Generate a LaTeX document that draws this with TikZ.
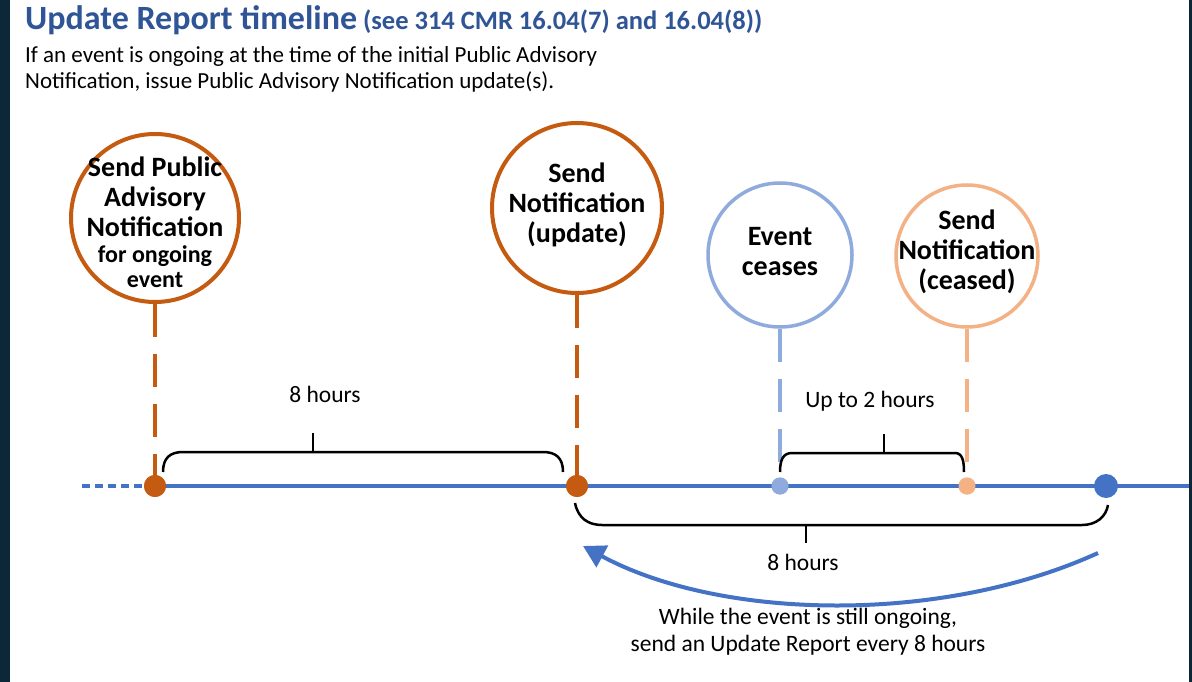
\documentclass[tikz,border=0pt]{standalone}
\usepackage{fontspec}
\setmainfont{Carlito}
\usetikzlibrary{arrows.meta}

\definecolor{burnt}{HTML}{C55A11}
\definecolor{skyline}{HTML}{8FAADC}
\definecolor{peach}{HTML}{F4B183}
\definecolor{axisblue}{HTML}{4472C4}
\definecolor{titleblue}{HTML}{2F5597}
\definecolor{framedark}{HTML}{0B2738}

\begin{document}
\begin{tikzpicture}[x=1pt,y=-1pt,
  milestone/.style={circle, draw=#1, fill=white, inner sep=0pt},
  tdot/.style={circle, fill=#1, inner sep=0pt},
  ctext/.style={font=\fontsize{28}{30}\bfseries\selectfont, align=center, inner sep=0pt},
  lbl/.style={font=\fontsize{23.5}{27}\selectfont, align=center, inner sep=0pt},
  stem/.style={line width=3.5pt, dash pattern=on 33pt off 17pt},
  brace/.style={line width=2.5pt, draw=black}
]
% page frame
\useasboundingbox (0,0) rectangle (1192,682);
\fill[framedark] (0,0) rectangle (1192,682);
\fill[white] (10,0) rectangle (1189,682);

% heading
\node[anchor=base west, inner sep=0pt, text=titleblue] (title) at (25,30)
  {{\fontsize{34}{36}\selectfont\bfseries Update Report timeline}\hspace{6pt}{\fontsize{26.5}{28}\selectfont\bfseries (see 314 CMR 16.04(7) and 16.04(8))}};
\node[anchor=base west, inner sep=0pt, font=\fontsize{23}{26}\selectfont] (intro1) at (25,63)
  {If an event is ongoing at the time of the initial Public Advisory};
\node[anchor=base west, inner sep=0pt, font=\fontsize{23}{26}\selectfont] (intro2) at (25,89)
  {Notification, issue Public Advisory Notification update(s).};

% time axis
\coordinate (tstart) at (82,486);
\coordinate (tend) at (1189,486);
\node[tdot=burnt, minimum size=22pt] (da) at (155,486) {};
\node[tdot=burnt, minimum size=22pt] (db) at (577,486) {};
\node[tdot=skyline, minimum size=17pt] (dc) at (780,486) {};
\node[tdot=peach, minimum size=17pt] (dd) at (967,486) {};
\node[tdot=axisblue, minimum size=24pt] (de) at (1106,486) {};

\draw[axisblue, line width=3.5pt, dash pattern=on 8pt off 5pt] (tstart) -- (da.center);
\draw[axisblue, line width=4pt] (da.center) -- (tend);

% milestone circles
\node[milestone=burnt, line width=4pt, minimum size=168pt] (ca) at (155,218) {};
\node[milestone=burnt, line width=4pt, minimum size=170pt] (cb) at (577,208) {};
\node[milestone=skyline, line width=3.5pt, minimum size=144pt] (cc) at (780,255) {};
\node[milestone=peach, line width=3.5pt, minimum size=142pt] (cd) at (967,256) {};

\node[ctext] (ta) at (155,222) {Send Public\\Advisory\\Notification\\[-4pt]{\fontsize{24}{25}\selectfont for ongoing}\\[-5pt]{\fontsize{24}{25}\selectfont event}};
\node[ctext] (tb) at (577,205) {Send\\Notification\\(update)};
\node[ctext] (tc) at (780,252) {Event\\ceases};
\node[ctext] (td) at (967,252) {Send\\Notification\\(ceased)};

% dashed stems from circles to the axis
\draw[stem, burnt] (ca.south) -- (da.center);
\draw[stem, burnt] (cb.south) -- (db.center);
\draw[stem, skyline] (cc.south) -- (dc.center);
\draw[stem, peach] (cd.south) -- (dd.center);

% redraw dots on top of the stems
\node[tdot=burnt, minimum size=22pt] at (da) {};
\node[tdot=burnt, minimum size=22pt] at (db) {};
\node[tdot=skyline, minimum size=17pt] at (dc) {};
\node[tdot=peach, minimum size=17pt] at (dd) {};

% braces
\draw[brace] (163,472) .. controls (163,458) and (170,452) .. (183,452) -- (543,452)
  .. controls (556,452) and (563,458) .. (563,472);
\draw[brace] (313,452) -- (313,433);
\node[lbl] (l1) at (325,394) {8 hours};

\draw[brace] (780,472) .. controls (780,460) and (783,453) .. (792,453) -- (955,453)
  .. controls (962,453) and (964,460) .. (964,472);
\draw[brace] (884,453) -- (884,434);
\node[lbl] (l2) at (870,401) {Up to 2 hours};

\draw[brace] (575,503) .. controls (578,518) and (588,525) .. (602,525) -- (1082,525)
  .. controls (1096,525) and (1106,517) .. (1108,505);
\draw[brace] (806,525) -- (806,543);
\node[lbl] (l3) at (803,562) {8 hours};

% repeat arrow
\coordinate (arrs) at (1098,553);
\coordinate (arre) at (583,546);
\draw[axisblue, line width=4pt, -{Triangle[length=22pt,width=24pt]}]
  (arrs) .. controls (940,625) and (720,620) .. (arre);
\node[lbl] (note) at (808,632)
  {While the event is still ongoing,\\send an Update Report every 8 hours};
\end{tikzpicture}
\end{document}
